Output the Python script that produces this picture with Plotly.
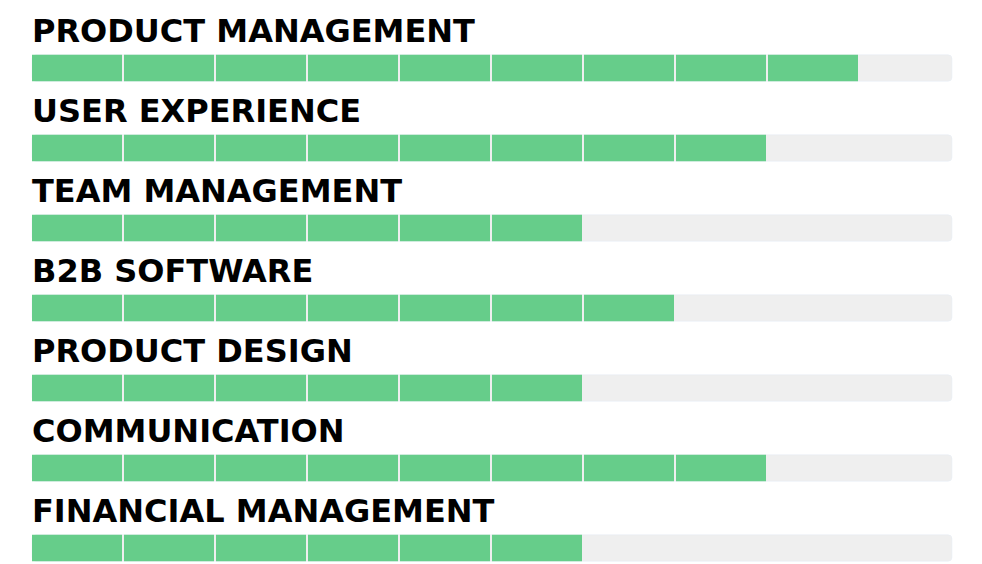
import plotly.graph_objects as go

# skill ratings out of 10
skills = ["PRODUCT MANAGEMENT", "USER EXPERIENCE", "TEAM MANAGEMENT", "B2B SOFTWARE",
          "PRODUCT DESIGN", "COMMUNICATION", "FINANCIAL MANAGEMENT"]
scores = [9, 8, 6, 7, 6, 8, 6]
max_score = 10

green = "#66cd8a"
grey = "#efefef"
bar_h = 0.33
gap = 2 / 92  # white gap between segments in data units

fig = go.Figure()

# grey background track
fig.add_trace(go.Bar(
    y=list(range(len(skills))), x=[max_score] * len(skills), base=0,
    orientation="h", width=bar_h, marker=dict(color=grey, cornerradius=4),
    hoverinfo="skip", showlegend=False))

# green segments, one block per point
seg_y, seg_base = [], []
for i, s in enumerate(scores):
    for k in range(s):
        seg_y.append(i)
        seg_base.append(k)
fig.add_trace(go.Bar(
    y=seg_y, x=[1 - gap] * len(seg_y), base=seg_base,
    orientation="h", width=bar_h, marker=dict(color=green, line=dict(width=0)),
    hoverinfo="skip", showlegend=False))

for i, name in enumerate(skills):
    fig.add_annotation(x=0, y=i - 0.465, text=name, showarrow=False,
                       xanchor="left", yanchor="middle", xshift=-2,
                       font=dict(family="DejaVu Sans", size=32, weight=700, color="#000000"))

# page body has an 8px margin, so the axes are shifted to compensate
fig.update_layout(
    width=982, height=564, barmode="overlay",
    margin=dict(l=0, r=0, t=0, b=0),
    plot_bgcolor="white", paper_bgcolor="white",
    xaxis=dict(range=[-24 / 92, 958 / 92], visible=False),
    yaxis=dict(range=[(564 - 60) / 80, -60 / 80], visible=False),
)

fig.write_html("out.html")
